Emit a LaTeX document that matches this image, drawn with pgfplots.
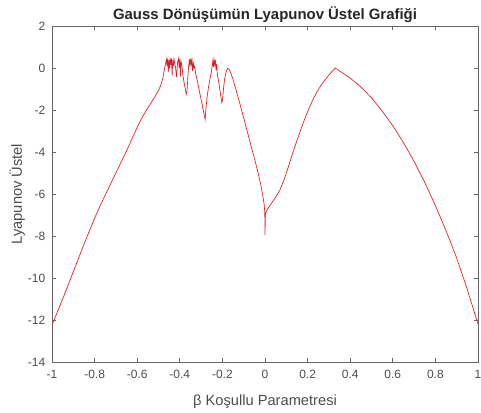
\documentclass[border=0pt]{standalone}
\usepackage{fontspec}
\setmainfont{Liberation Sans}
\usepackage{pgfplots}
\pgfplotsset{compat=1.18}
\definecolor{axgray}{gray}{0.4}
\definecolor{txtgray}{gray}{0.3}
\definecolor{lyared}{RGB}{220,30,40}

\begin{document}
\begin{tikzpicture}
\begin{axis}[
    at={(0,0)}, anchor=south west,
    scale only axis,
    width=319.5pt, height=252pt,
    xmin=-1, xmax=1, ymin=-14, ymax=2,
    xtick={-1,-0.8,-0.6,-0.4,-0.2,0,0.2,0.4,0.6,0.8,1},
    ytick={-14,-12,-10,-8,-6,-4,-2,0,2},
    tick align=inside,
    major tick length=3pt,
    axis line style={axgray, line width=0.5pt},
    tick style={axgray, line width=0.5pt},
    ticklabel style={font=\fontsize{9}{10}\selectfont, text=txtgray},
    xticklabel style={yshift=-2.5pt},
    yticklabel style={xshift=-1.5pt},
    /pgf/number format/assume math mode=true,
    title={Gauss Dönüşümün Lyapunov Üstel Grafiği},
    title style={font=\fontsize{11.2}{13}\bfseries, text=black!85,
                 at={(axis description cs:0.5,1.009)}, anchor=center},
    xlabel={β Koşullu Parametresi},
    xlabel style={font=\fontsize{11}{13}\selectfont, text=txtgray,
                  at={(axis description cs:0.5,-0.118)}, anchor=center},
    ylabel={Lyapunov Üstel},
    ylabel style={font=\fontsize{11}{13}\selectfont, text=txtgray,
                  at={(axis description cs:-0.0814,0.5)}, anchor=center},
]
\addplot[lyared, line width=0.5pt] coordinates {
    % left branch
    (-1.000,-12.25) (-0.975,-11.62) (-0.950,-11.00) (-0.925,-10.35)
    (-0.900,-9.70) (-0.875,-9.05) (-0.850,-8.40) (-0.825,-7.77)
    (-0.800,-7.15) (-0.775,-6.58) (-0.750,-6.05) (-0.725,-5.52)
    (-0.700,-5.00) (-0.675,-4.47) (-0.650,-3.95) (-0.625,-3.38)
    (-0.600,-2.82) (-0.575,-2.32) (-0.550,-1.90) (-0.530,-1.58)
    (-0.515,-1.33) (-0.500,-1.07) (-0.490,-0.84) (-0.480,-0.50)
    (-0.472,-0.05)
    % chaotic window
    (-0.466,0.25) (-0.463,0.42) (-0.460,0.10) (-0.457,0.45) (-0.454,-0.20)
    (-0.451,0.38) (-0.448,0.00) (-0.445,0.47) (-0.442,0.15) (-0.439,0.44)
    (-0.436,-0.35) (-0.433,0.40) (-0.430,0.10) (-0.427,0.42) (-0.424,0.20)
    (-0.420,0.05) (-0.416,-0.45) (-0.413,-0.10) (-0.410,0.30) (-0.406,0.45)
    (-0.403,0.00) (-0.400,0.42) (-0.397,-0.40) (-0.394,0.30) (-0.390,0.10)
    (-0.386,-0.30) (-0.380,-0.70) (-0.375,-0.95) (-0.370,-1.25) (-0.366,-1.10)
    (-0.362,-0.40) (-0.358,0.10) (-0.355,0.42) (-0.352,0.05) (-0.349,0.45)
    (-0.346,0.20) (-0.343,0.40) (-0.340,-0.15) (-0.337,0.30) (-0.334,0.00)
    (-0.330,0.10) (-0.326,-0.25) (-0.320,-0.50) (-0.312,-0.90) (-0.302,-1.40)
    (-0.292,-1.90) (-0.284,-2.30) (-0.281,-2.45) (-0.278,-2.00) (-0.272,-1.40)
    (-0.265,-0.90) (-0.258,-0.50) (-0.252,-0.20) (-0.248,0.10) (-0.245,0.35)
    (-0.242,0.05) (-0.239,0.40) (-0.236,0.15) (-0.233,0.38) (-0.230,-0.10)
    (-0.227,0.20) (-0.224,-0.30) (-0.220,-0.50) (-0.214,-0.90) (-0.208,-1.30)
    (-0.203,-1.65) (-0.200,-1.55) (-0.195,-1.00) (-0.190,-0.55) (-0.183,-0.20)
    (-0.176,-0.02) (-0.170,-0.05)
    % descent to the dip at zero
    (-0.160,-0.25) (-0.150,-0.55) (-0.140,-0.90) (-0.120,-1.62)
    (-0.100,-2.38) (-0.080,-3.15) (-0.060,-3.92) (-0.040,-4.68)
    (-0.030,-5.10) (-0.020,-5.55) (-0.010,-6.10) (-0.004,-6.50)
    (-0.001,-6.85) (0.000,-7.95) (0.002,-6.95) (0.010,-6.75)
    (0.030,-6.44) (0.050,-6.15) (0.070,-5.81)
    % right branch
    (0.090,-5.30) (0.110,-4.70) (0.130,-4.05) (0.150,-3.45)
    (0.170,-2.88) (0.190,-2.33) (0.210,-1.84) (0.230,-1.40)
    (0.250,-1.03) (0.270,-0.72) (0.290,-0.46) (0.310,-0.22)
    (0.330,0.00) (0.350,-0.14) (0.400,-0.48) (0.450,-0.90)
    (0.500,-1.42) (0.550,-2.05) (0.600,-2.75) (0.650,-3.55)
    (0.700,-4.45) (0.750,-5.45) (0.800,-6.55) (0.850,-7.75)
    (0.900,-9.05) (0.950,-10.55) (1.000,-12.20)
};
\end{axis}
\pgfresetboundingbox
\path[use as bounding box] (-39pt,-37.5pt) rectangle (321.75pt,271.5pt);
\end{tikzpicture}
\end{document}
